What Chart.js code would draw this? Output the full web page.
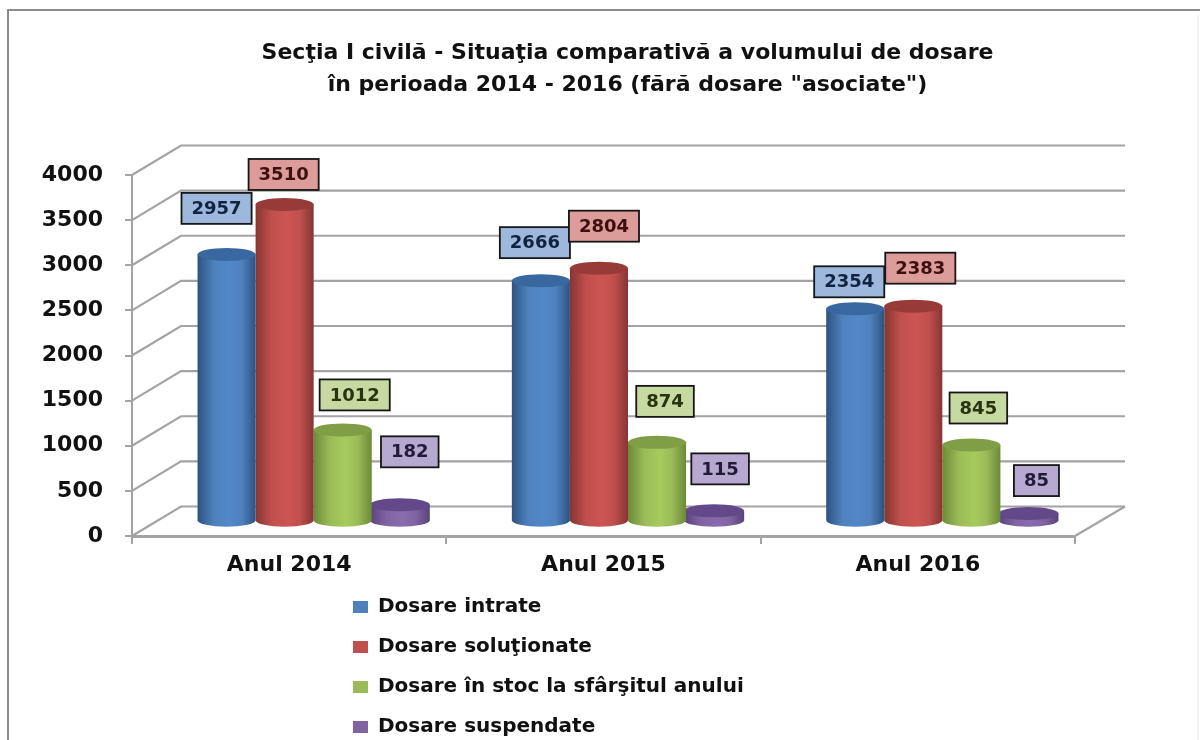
<!DOCTYPE html>
<html lang="ro">
<head>
<meta charset="utf-8">
<style>html,body{margin:0;padding:0;background:#fff}canvas{display:block}</style>
<script src="https://cdn.jsdelivr.net/npm/chart.js@4"></script>
</head>
<body>
<canvas id="c" width="1200" height="740"></canvas>
<script>
const categories = ["Anul 2014", "Anul 2015", "Anul 2016"];
const dosareIntrate = [2957, 2666, 2354];
const dosareSolutionate = [3510, 2804, 2383];
const dosareStoc = [1012, 874, 845];
const dosareSuspendate = [182, 115, 85];
const seriesNames = ["Dosare intrate", "Dosare soluţionate", "Dosare în stoc la sfârşitul anului", "Dosare suspendate"];
const titleLines = ["Secţia I civilă - Situaţia comparativă a volumului de dosare", "în perioada 2014 - 2016 (fără dosare \"asociate\")"];

const baseColors = ["#4f81bd", "#c0504d", "#9bbb59", "#8064a2"];
const edgeColors = ["#2c5380", "#873533", "#6b8a38", "#59427a"];
const lightColors = ["#5288c8", "#cc5552", "#a6cb5c", "#8a6cae"];
const capColors = ["#38689f", "#983a38", "#7f9e45", "#64498a"];
const boxFills = ["#9db8dc", "#dc9c9a", "#c6d9a0", "#b6a8cf"];
const textColors = ["#10233f", "#3d0f0e", "#28340f", "#231a3a"];
// [dx, dy] of each label box from the top centre of its cylinder, per series and year
const labelShift = [
  [[-10, -46], [-6, -38], [-6, -27]],
  [[-1, -30], [5, -42], [7, -38]],
  [[12, -35], [8, -41], [7, -37]],
  [[9, -53], [5, -42], [7, -33]]
];
const depthX = 49, depthY = 29.5, capRy = 6.5, gridColor = "#a3a3a3";

const scene = {
  id: "scene",
  afterLayout(chart) {
    const lg = chart.legend;
    lg.left = 353 - 20; lg.right = lg.left + 420; lg.top = 577; lg.bottom = lg.top + 163;
    const tb = chart.titleBlock;
    tb.left += 90; tb.right += 90;
  },
  beforeDraw(chart) {
    const c = chart.ctx;
    c.save();
    c.fillStyle = "#fff"; c.fillRect(0, 0, 1200, 740);
    c.strokeStyle = "#8c8c8c"; c.lineWidth = 2;
    c.beginPath(); c.moveTo(8, 740); c.lineTo(8, 10); c.lineTo(1200, 10); c.stroke();
    c.strokeStyle = "#ececec"; c.lineWidth = 1;
    c.beginPath(); c.moveTo(1198, 14); c.lineTo(1198, 740); c.stroke();
    c.restore();
  },
  beforeDatasetsDraw(chart) {
    const c = chart.ctx, a = chart.chartArea, y = chart.scales.y;
    c.save();
    c.strokeStyle = gridColor; c.lineWidth = 2.2;
    y.ticks.forEach(t => {
      const p = y.getPixelForValue(t.value);
      c.beginPath(); c.moveTo(a.left, p); c.lineTo(a.left + depthX, p - depthY); c.lineTo(a.right + depthX + 1, p - depthY); c.stroke();
    });
    c.beginPath(); c.moveTo(a.right, a.bottom); c.lineTo(a.right + depthX + 1, a.bottom - depthY); c.stroke();
    c.restore();
  },
  beforeDatasetDraw(chart, args) {
    const meta = args.meta, c = chart.ctx, i = args.index;
    meta.data.forEach(bar => {
      const w = bar.width + (i === 3 ? 2 : 0), cx = bar.x + depthX / 2 + (i === 3 ? -1 : 0);
      const l = cx - w / 2, r = cx + w / 2, top = bar.y - depthY / 2, base = bar.base - depthY / 2, rx = w / 2;
      const g = c.createLinearGradient(l, 0, r, 0);
      g.addColorStop(0, edgeColors[i]); g.addColorStop(0.28, baseColors[i]);
      g.addColorStop(0.55, lightColors[i]); g.addColorStop(0.76, baseColors[i]); g.addColorStop(1, edgeColors[i]);
      c.save();
      c.fillStyle = g;
      c.beginPath(); c.moveTo(l, top); c.lineTo(l, base);
      c.ellipse(cx, base, rx, capRy, 0, Math.PI, 0, true);
      c.lineTo(r, top); c.closePath(); c.fill();
      c.fillStyle = capColors[i];
      c.beginPath(); c.ellipse(cx, top, rx, capRy, 0, 0, Math.PI * 2); c.fill();
      c.restore();
    });
    return false;
  },
  afterDatasetsDraw(chart) {
    const c = chart.ctx;
    c.save();
    c.font = "bold 18px 'DejaVu Sans'";
    c.textAlign = "center"; c.textBaseline = "middle";
    chart.data.datasets.forEach((ds, i) => {
      chart.getDatasetMeta(i).data.forEach((bar, j) => {
        const s = String(ds.data[j]);
        const w = c.measureText(s).width + 20, h = 31;
        const cx = bar.x + depthX / 2 + labelShift[i][j][0];
        const cy = bar.y - depthY / 2 + labelShift[i][j][1];
        c.fillStyle = boxFills[i]; c.fillRect(cx - w / 2, cy - h / 2, w, h);
        c.strokeStyle = "#161616"; c.lineWidth = 1.8; c.strokeRect(cx - w / 2, cy - h / 2, w, h);
        c.fillStyle = textColors[i]; c.fillText(s, cx, cy + 1);
      });
    });
    c.restore();
  }
};

const seriesValues = [dosareIntrate, dosareSolutionate, dosareStoc, dosareSuspendate];
new Chart(document.getElementById("c"), {
  type: "bar",
  data: {
    labels: categories,
    datasets: seriesValues.map((d, i) => ({
      label: seriesNames[i], data: d, backgroundColor: baseColors[i], borderWidth: 0,
      categoryPercentage: 0.739, barPercentage: 1
    }))
  },
  plugins: [scene],
  options: {
    responsive: false, animation: false, events: [],
    layout: { padding: { left: 0, top: 0, bottom: 66, right: 125 } },
    plugins: {
      tooltip: { enabled: false },
      title: {
        display: true, text: titleLines, color: "#111",
        font: { family: "'DejaVu Sans'", weight: "bold", size: 22, lineHeight: 32 / 22 },
        padding: { top: 37, bottom: 74 }
      },
      legend: {
        position: "bottom", align: "start", maxWidth: 420,
        labels: { boxWidth: 15, boxHeight: 12, padding: 20, color: "#111",
          font: { family: "'DejaVu Sans'", weight: "bold", size: 20 } }
      }
    },
    scales: {
      x: {
        afterFit(s) { s.height = 48; },
        grid: { drawOnChartArea: false, color: gridColor, lineWidth: 2, tickLength: 8 },
        border: { color: gridColor, width: 3 },
        ticks: { color: "#111", padding: 8, font: { family: "'DejaVu Sans'", weight: "bold", size: 22 } }
      },
      y: {
        min: 0, max: 4000,
        afterFit(s) { s.width = 132; },
        grid: { drawOnChartArea: false, color: gridColor, lineWidth: 2, tickLength: 7 },
        border: { color: gridColor, width: 2 },
        ticks: { stepSize: 500, color: "#111", padding: 22, callback: v => String(v),
          font: { family: "'DejaVu Sans'", weight: "bold", size: 22 } }
      }
    }
  }
});
</script>
</body>
</html>
